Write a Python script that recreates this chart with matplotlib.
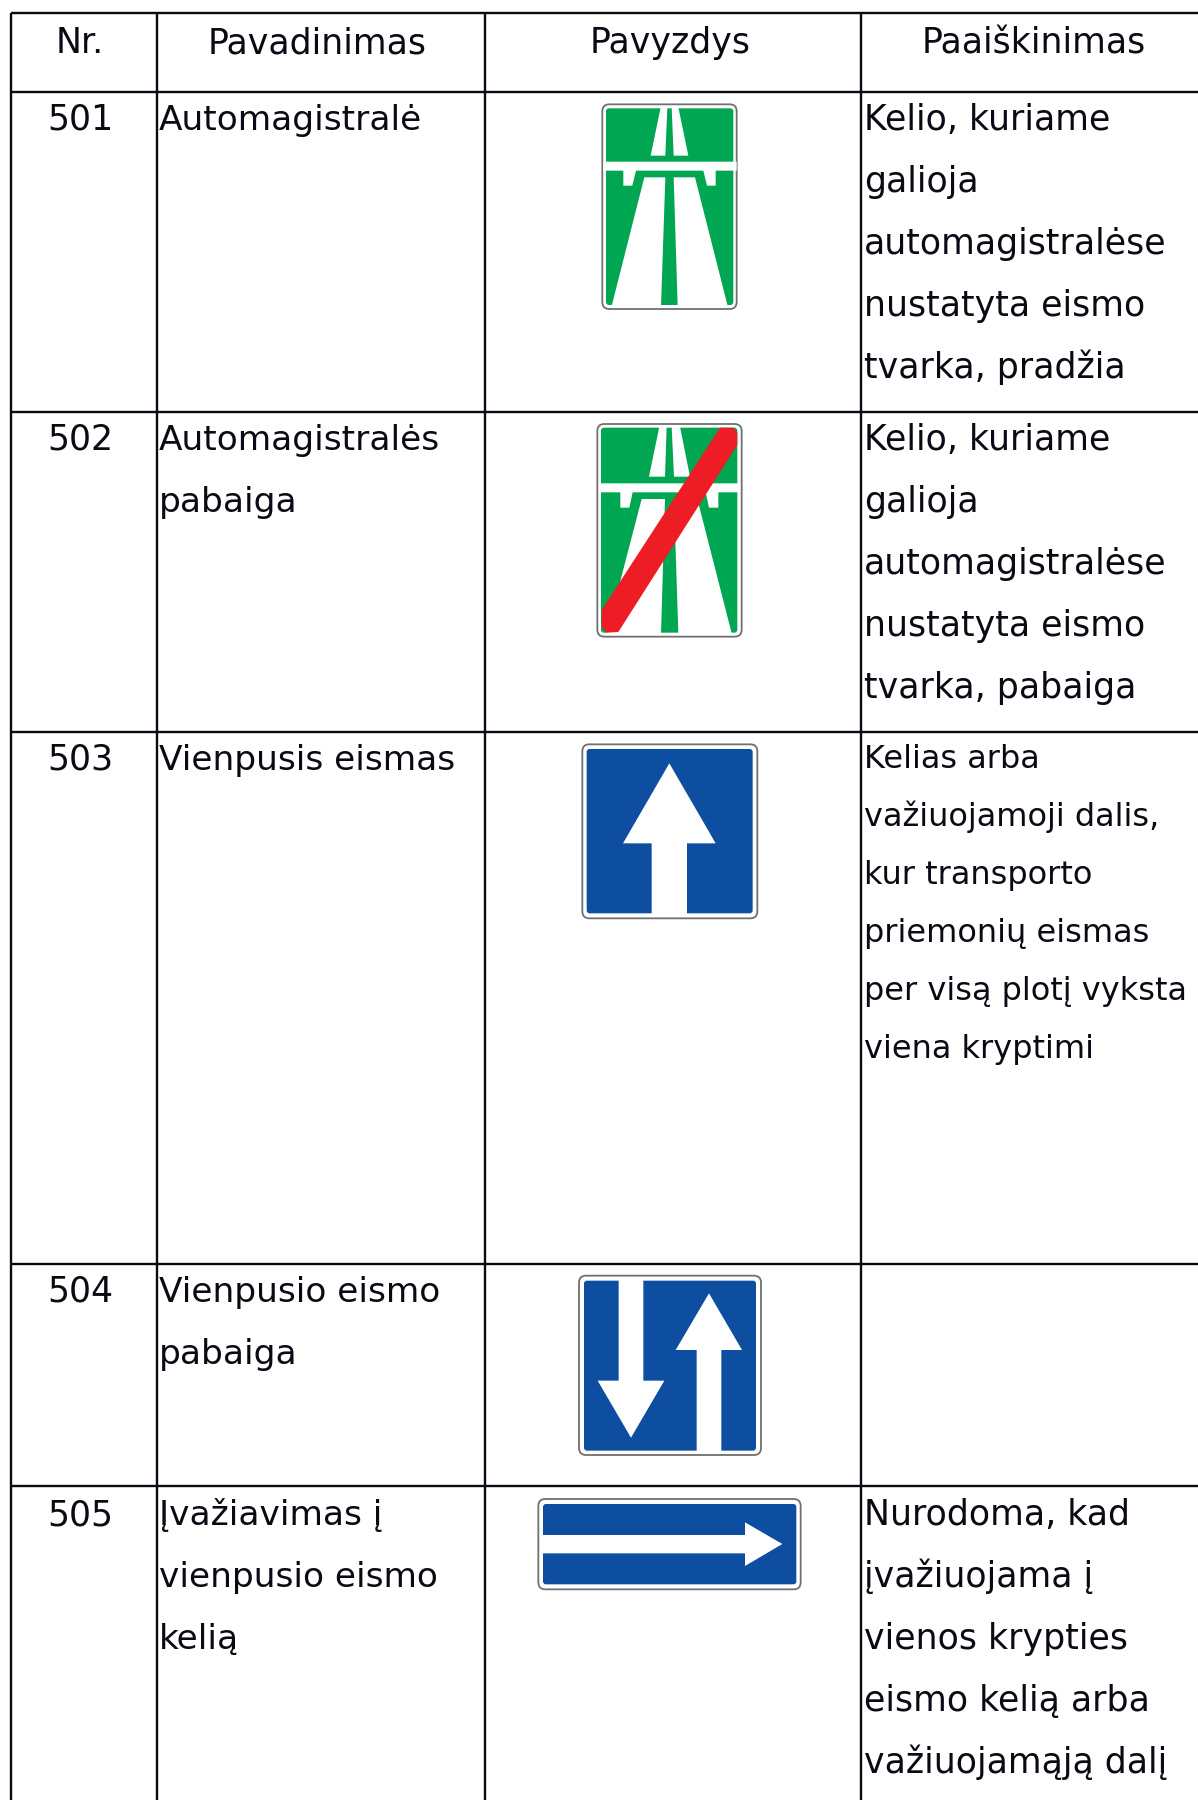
import matplotlib
matplotlib.use("Agg")
import matplotlib.pyplot as plt
from matplotlib.patches import FancyBboxPatch, Polygon

plt.rcParams['font.family'] = ['DejaVu Sans']

headers = ["Nr.", "Pavadinimas", "Pavyzdys", "Paaiškinimas"]
numbers = ["501", "502", "503", "504", "505"]
names = [
    ["Automagistralė"],
    ["Automagistralės", "pabaiga"],
    ["Vienpusis eismas"],
    ["Vienpusio eismo", "pabaiga"],
    ["Įvažiavimas į", "vienpusio eismo", "kelią"],
]
notes = [
    ["Kelio, kuriame", "galioja", "automagistralėse", "nustatyta eismo", "tvarka, pradžia"],
    ["Kelio, kuriame", "galioja", "automagistralėse", "nustatyta eismo", "tvarka, pabaiga"],
    ["Kelias arba", "važiuojamoji dalis,", "kur transporto", "priemonių eismas", "per visą plotį vyksta", "viena kryptimi"],
    [],
    ["Nurodoma, kad", "įvažiuojama į", "vienos krypties", "eismo kelią arba", "važiuojamąją dalį"],
]

col_x = [10.5, 156.5, 484.5, 860.5]
row_y = [12.5, 92, 412, 731.5, 1264, 1486]
header_cx = [80, 317, 670, 1034]
row_base = [130, 450, 770, 1302, 1525]

GREEN = "#00a651"
BLUE = "#0d4ea1"
RED = "#ee1c25"
INK = "#0a0a14"


def sign(ax, ox, oy, outer, inner, color):
    x0, x1, y0, y1 = outer
    ax.add_patch(FancyBboxPatch((ox + x0 / 3 + 4, oy + y0 / 3 + 4), (x1 - x0) / 3 - 8, (y1 - y0) / 3 - 8,
                                boxstyle="round,pad=4,rounding_size=7", fc="white", ec="#707070", lw=1.3))
    x0, x1, y0, y1 = inner
    ax.add_patch(FancyBboxPatch((ox + x0 / 3 + 2, oy + y0 / 3 + 2), (x1 - x0) / 3 - 4, (y1 - y0) / 3 - 4,
                                boxstyle="round,pad=2,rounding_size=3", fc=color, ec="none"))


def poly(ax, ox, oy, pts, color, z=3):
    ax.add_patch(Polygon([(ox + a / 3, oy + b / 3) for a, b in pts], closed=True, fc=color, ec="none", zorder=z))


fig = plt.figure(figsize=(11.98, 18), dpi=100)
ax = fig.add_axes([0, 0, 1, 1])
ax.set_xlim(0, 1198)
ax.set_ylim(1800, 0)
ax.axis("off")

# grid of the table
for x in col_x:
    ax.plot([x, x], [row_y[0], 1800], color=INK, lw=1.7, solid_capstyle="butt")
for y in row_y:
    ax.plot([col_x[0], 1198], [y, y], color=INK, lw=1.7, solid_capstyle="butt")

FS = 25
for cx, h in zip(header_cx, headers):
    ax.text(cx, 53, h, fontsize=FS, ha="center", va="baseline", color=INK)

for i, base in enumerate(row_base):
    ax.text(80, base, numbers[i], fontsize=FS, ha="center", va="baseline", color=INK)
    for k, line in enumerate(names[i]):
        ax.text(159, base + k * 62, line, fontsize=FS * 0.99, va="baseline", color=INK)
    small = i == 2
    for k, line in enumerate(notes[i]):
        ax.text(864, base - 2 * small + k * (58 if small else 62), line,
                fontsize=23 if small else FS, va="baseline", color=INK)

# 501
ox, oy = 560, 90
sign(ax, ox, oy, (127, 530, 43, 657), (138, 520, 55, 645), GREEN)
poly(ax, ox, oy, [(302, 52), (322, 52), (316, 197), (272, 197)], "white")
poly(ax, ox, oy, [(335, 52), (355, 52), (385, 197), (341, 197)], "white")
poly(ax, ox, oy, [(130, 215), (530, 215), (530, 242), (467, 242), (467, 287), (441, 287), (430, 242),
                  (228, 242), (217, 287), (190, 287), (190, 242), (130, 242)], "white")
poly(ax, ox, oy, [(253, 262), (316, 262), (303, 648), (155, 648)], "white")
poly(ax, ox, oy, [(341, 262), (405, 262), (503, 648), (353, 648)], "white")

# 502
ox, oy = 560, 410
sign(ax, ox, oy, (112, 545, 42, 680), (123, 532, 53, 668), GREEN)
poly(ax, ox, oy, [(298, 50), (320, 50), (315, 200), (267, 200)], "white")
poly(ax, ox, oy, [(335, 50), (360, 50), (390, 200), (342, 200)], "white")
poly(ax, ox, oy, [(118, 220), (538, 220), (538, 247), (475, 247), (475, 293), (447, 293), (437, 247),
                  (218, 247), (208, 293), (181, 293), (181, 247), (118, 247)], "white")
poly(ax, ox, oy, [(245, 267), (315, 267), (303, 670), (140, 670)], "white")
poly(ax, ox, oy, [(342, 267), (412, 267), (515, 670), (355, 670)], "white")
poly(ax, ox, oy, [(480, 53), (520, 53), (532, 68), (532, 105), (175, 666), (140, 668), (125, 650), (125, 600)], RED, z=4)

# 503
ox, oy = 560, 730
sign(ax, ox, oy, (67, 592, 43, 565), (80, 578, 57, 550), BLUE)
poly(ax, ox, oy, [(328, 100), (467, 340), (381, 340), (381, 552), (275, 552), (275, 340), (189, 340)], "white")

# 504
ox, oy = 560, 1260
sign(ax, ox, oy, (57, 603, 47, 585), (72, 588, 62, 572), BLUE)
poly(ax, ox, oy, [(176, 60), (250, 60), (250, 362), (313, 362), (213, 533), (113, 362), (176, 362)], "white")
poly(ax, ox, oy, [(447, 100), (546, 270), (484, 270), (484, 574), (410, 574), (410, 270), (347, 270)], "white")

# 505
ox, oy = 520, 1480
sign(ax, ox, oy, (55, 842, 57, 328), (69, 829, 72, 313), BLUE)
poly(ax, ox, oy, [(67, 165), (675, 165), (675, 127), (787, 192), (675, 258), (675, 220), (67, 220)], "white")

plt.savefig("out.png", dpi=100)
